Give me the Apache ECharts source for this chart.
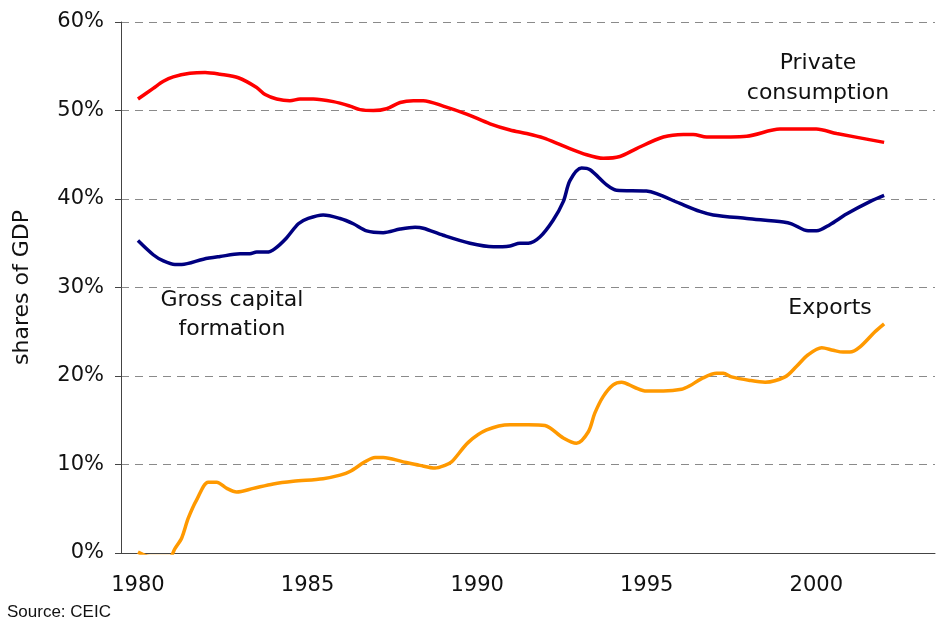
<!DOCTYPE html>
<html>
<head>
<meta charset="utf-8">
<script src="https://cdn.jsdelivr.net/npm/echarts@6/dist/echarts.min.js"></script>
<style>
  html, body { margin: 0; padding: 0; background: #fff; }
  #chart { width: 949px; height: 625px; }
</style>
</head>
<body>
<div id="chart"></div>
<script>
// year labels on the category axis
var yearLabels = [];
for (var y = 1980; y <= 2003; y++) yearLabels.push(String(y));

// private consumption, % of GDP
var consYears = [1980.0, 1980.45, 1980.75, 1981.04, 1981.53, 1981.98, 1982.42, 1982.96, 1983.5, 1983.75,
  1984.09, 1984.48, 1984.78, 1985.17, 1985.76, 1986.25, 1986.55, 1986.94, 1987.33, 1987.73,
  1988.12, 1988.41, 1989.0, 1989.69, 1990.38, 1990.97, 1991.46, 1991.95, 1992.54, 1993.23,
  1993.72, 1994.21, 1994.7, 1995.49, 1996.08, 1996.37, 1996.77, 1997.95, 1998.93, 2000.0,
  2000.6, 2002.0];
var consValues = [51.3, 52.5, 53.3, 53.8, 54.2, 54.3, 54.1, 53.7, 52.6, 51.8,
  51.3, 51.1, 51.3, 51.3, 51.0, 50.5, 50.1, 50.0, 50.2, 50.9,
  51.1, 51.1, 50.5, 49.6, 48.5, 47.8, 47.4, 46.9, 46.0, 45.0,
  44.6, 44.8, 45.7, 47.0, 47.3, 47.3, 47.0, 47.1, 47.9, 47.9,
  47.4, 46.4];

// gross capital formation, % of GDP
var gcfYears = [1980.0, 1980.45, 1980.75, 1981.09, 1981.29, 1981.93, 1982.42, 1983.01, 1983.3, 1983.5,
  1983.8, 1984.04, 1984.38, 1984.73, 1985.02, 1985.46, 1985.96, 1986.35, 1986.74, 1987.23,
  1987.73, 1988.17, 1988.41, 1989.0, 1989.79, 1990.48, 1990.97, 1991.26, 1991.51, 1991.85,
  1992.24, 1992.54, 1992.74, 1993.08, 1993.33, 1993.82, 1994.11, 1994.99, 1995.29, 1995.98,
  1996.57, 1996.96, 1997.95, 1999.03, 1999.27, 1999.76, 2000.01, 2000.4, 2000.89, 2001.58,
  2002.0];
var gcfValues = [35.3, 33.7, 33.0, 32.6, 32.6, 33.2, 33.5, 33.8, 33.8, 34.0,
  34.0, 34.4, 35.6, 37.2, 37.8, 38.2, 37.8, 37.2, 36.4, 36.2,
  36.6, 36.8, 36.7, 35.9, 35.0, 34.6, 34.7, 35.0, 35.0, 35.7,
  37.6, 39.7, 42.1, 43.5, 43.3, 41.6, 41.0, 40.9, 40.6, 39.5,
  38.6, 38.2, 37.8, 37.4, 37.2, 36.4, 36.4, 37.1, 38.3, 39.7,
  40.4];

// exports, % of GDP
var expYears = [1980.0, 1980.35, 1980.94, 1981.09, 1981.29, 1981.48, 1981.73, 1982.07, 1982.32, 1982.62,
  1982.91, 1983.4, 1983.99, 1984.58, 1985.46, 1985.96, 1986.25, 1986.69, 1986.99, 1987.23,
  1987.82, 1988.31, 1988.76, 1989.05, 1989.25, 1989.74, 1990.28, 1990.97, 1991.51, 1992.0,
  1992.54, 1992.93, 1993.28, 1993.47, 1993.72, 1994.01, 1994.26, 1994.65, 1994.99, 1995.49,
  1996.03, 1996.27, 1996.62, 1997.06, 1997.26, 1997.5, 1998.04, 1998.49, 1999.08, 1999.42,
  1999.76, 2000.16, 2000.5, 2000.79, 2000.99, 2001.29, 2001.73, 2002.0];
var expValues = [0.1, -0.4, -0.4, 0.5, 1.7, 3.9, 6.0, 8.0, 8.0, 7.3,
  6.9, 7.3, 7.8, 8.1, 8.4, 8.8, 9.2, 10.3, 10.8, 10.8,
  10.3, 9.9, 9.6, 9.9, 10.3, 12.5, 13.9, 14.5, 14.5, 14.4,
  13.0, 12.4, 13.7, 15.8, 17.7, 19.0, 19.3, 18.7, 18.3, 18.3,
  18.5, 18.9, 19.7, 20.3, 20.3, 19.9, 19.5, 19.3, 19.9, 21.1,
  22.4, 23.2, 22.9, 22.7, 22.7, 23.3, 25.0, 25.9];

function pairs(xs, vs) {
  return xs.map(function (x, i) { return [x, vs[i]]; });
}

var font = 'DejaVu Sans';
var noteFont = '22px "DejaVu Sans"';
var chart = echarts.init(document.getElementById('chart'));
var option = {
  backgroundColor: '#fff',
  animation: false,
  grid: { left: 121, right: 14, top: 22, bottom: 72 },
  xAxis: [
    {
      type: 'category',
      data: yearLabels,
      boundaryGap: true,
      axisLine: { lineStyle: { color: '#444', width: 1 } },
      axisTick: { interval: 0, length: 6, lineStyle: { color: '#444' } },
      axisLabel: { interval: 4, color: '#111', fontFamily: font, fontSize: 21, margin: 22 },
      splitLine: { show: false }
    },
    {
      type: 'value',
      min: 1979.5,
      max: 2003.5,
      show: false,
      splitLine: { show: false }
    }
  ],
  yAxis: {
    type: 'value',
    min: 0,
    max: 60,
    interval: 10,
    name: 'shares of GDP',
    nameLocation: 'middle',
    nameGap: 88,
    nameTextStyle: { color: '#111', fontFamily: font, fontSize: 22 },
    axisLine: { show: true, lineStyle: { color: '#444', width: 1 } },
    axisTick: { show: true, length: 6, lineStyle: { color: '#444' } },
    axisLabel: { formatter: '{value}%', color: '#111', fontFamily: font, fontSize: 21, margin: 17 },
    splitLine: { lineStyle: { color: '#8a8a8a', type: [8, 6], width: 1 } }
  },
  series: [
    {
      name: 'Private consumption', type: 'line', xAxisIndex: 1,
      data: pairs(consYears, consValues), showSymbol: false, smooth: 0.3,
      lineStyle: { color: '#ff0000', width: 3.5 }
    },
    {
      name: 'Gross capital formation', type: 'line', xAxisIndex: 1,
      data: pairs(gcfYears, gcfValues), showSymbol: false, smooth: 0.3,
      lineStyle: { color: '#000080', width: 3.5 }
    },
    {
      name: 'Exports', type: 'line', xAxisIndex: 1,
      data: pairs(expYears, expValues), showSymbol: false, smooth: 0.3,
      lineStyle: { color: '#ff9900', width: 3.5 }
    }
  ],
  graphic: [
    { type: 'text', style: { x: 818, y: 63, text: 'Private', font: noteFont, fill: '#111', align: 'center', verticalAlign: 'middle' } },
    { type: 'text', style: { x: 818, y: 93, text: 'consumption', font: noteFont, fill: '#111', align: 'center', verticalAlign: 'middle' } },
    { type: 'text', style: { x: 232, y: 300, text: 'Gross capital', font: noteFont, fill: '#111', align: 'center', verticalAlign: 'middle' } },
    { type: 'text', style: { x: 232, y: 329, text: 'formation', font: noteFont, fill: '#111', align: 'center', verticalAlign: 'middle' } },
    { type: 'text', style: { x: 830, y: 308, text: 'Exports', font: noteFont, fill: '#111', align: 'center', verticalAlign: 'middle' } },
    { type: 'text', style: { x: 7, y: 612, text: 'Source: CEIC', font: '17px "Liberation Sans"', fill: '#111', align: 'left', verticalAlign: 'middle' } }
  ]
};
chart.setOption(option);
</script>
</body>
</html>
